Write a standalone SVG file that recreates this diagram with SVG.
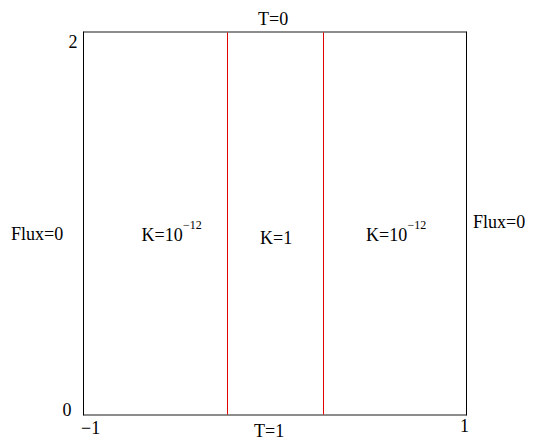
<svg xmlns="http://www.w3.org/2000/svg" width="533" height="439" viewBox="0 0 533 439">
<style>
text{font-family:"Liberation Serif","Times New Roman",serif;font-size:18px;fill:#000}
.sup{font-size:12px}
.hl{stroke:#666;stroke-width:1.5;fill:none}
.vl{stroke:#000;stroke-width:1;fill:none}
.rl{stroke:#e00000;stroke-width:1;fill:none}
</style>
<rect width="533" height="439" fill="#fff"/>
<g id="connectors">
<line class="hl" x1="83.5" y1="32" x2="466.5" y2="32"/>
<line class="hl" x1="83.5" y1="415" x2="466.5" y2="415"/>
<line class="vl" x1="83.5" y1="31.5" x2="83.5" y2="415.5"/>
<line class="vl" x1="466.5" y1="31.5" x2="466.5" y2="415.5"/>
<line class="rl" x1="227.5" y1="32.5" x2="227.5" y2="414.5"/>
<line class="rl" x1="323.5" y1="32.5" x2="323.5" y2="414.5"/>
</g>
<g id="labels">
<text x="258" y="24.5">T=0</text>
<text x="254" y="436.5">T=1</text>
<text x="11" y="240">Flux=0</text>
<text x="473" y="228">Flux=0</text>
<text x="68.5" y="47.5">2</text>
<text x="62.5" y="415.5">0</text>
<text x="81" y="434">−1</text>
<text x="460" y="431.5">1</text>
</g>
<g id="region-left"><text x="141.5" y="241">K=10</text><text class="sup" x="183" y="228.5">−12</text></g>
<g id="region-middle"><text x="260" y="244">K=1</text></g>
<g id="region-right"><text x="366" y="241">K=10</text><text class="sup" x="407.5" y="228.5">−12</text></g>
</svg>
